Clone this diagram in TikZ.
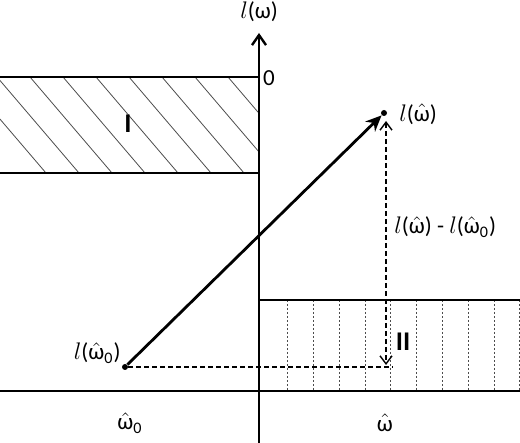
\documentclass[tikz,border=0pt]{standalone}
\usepackage{amsmath}
\usepackage{fontspec}
\setmainfont{Carlito}
\usetikzlibrary{arrows.meta}
\newcommand{\wh}{\ensuremath{\hat{\text{ω}}}}
\begin{document}
\begin{tikzpicture}[x=0.5pt,y=-0.5pt,
  lbl/.style={inner sep=0pt,font=\fontsize{11.5}{13}\selectfont},
  reg/.style={inner sep=0pt,font=\fontsize{13.5}{15}\selectfont\bfseries},
  bound/.style={line width=1pt},
  axisline/.style={line width=1.3pt},
  hatch/.style={line width=0.4pt,black!70},
  vhatch/.style={line width=0.4pt,black!70,dash pattern=on 1.2pt off 0.8pt},
  dot/.style={circle,fill=black,inner sep=0pt,minimum size=3pt},
  dashln/.style={line width=0.6pt,dash pattern=on 2.5pt off 1.5pt}]
\useasboundingbox (0,0) rectangle (520,443);
% region I hatch
\begin{scope}
\clip (0,77) rectangle (259,173);
\foreach \t in {-36,-3,30,63,96,129,162,195,228}
  \draw[hatch] (\t,77) -- ++(82,96);
\end{scope}
% region II hatch
\foreach \t in {287,313,339,365,390,416,442,468,494,519}
  \draw[vhatch] (\t,300) -- (\t,390);
% region boundaries
\coordinate (ItopL) at (0,77);
\coordinate (ItopR) at (259,77);
\coordinate (IbotL) at (0,173);
\coordinate (IbotR) at (259,173);
\coordinate (IItopL) at (259,300);
\coordinate (IItopR) at (520,300);
\coordinate (hL) at (0,391);
\coordinate (hR) at (520,391);
\coordinate (axbot) at (259,443);
\coordinate (axtop) at (259,33);
\draw[bound] (ItopL) -- (ItopR);
\draw[bound] (IbotL) -- (IbotR);
\draw[bound] (IItopL) -- (IItopR);
\draw[bound] (hL) -- (hR);
\draw[axisline,-{Straight Barb[length=5pt,width=7pt,line width=1.2pt]}] (axbot) -- (axtop);
% labels
\node[lbl] (ylab) at (259,12) {\(l\)(ω)};
\node[lbl] (zero) at (269,78) {0};
\node[reg] (regI) at (128,124) {I};
\node[reg] (regII) at (403,342) {II};
\node[lbl] (w0) at (130,423) {\wh\textsubscript{0}};
\node[lbl] (w) at (385,423) {\wh};
% points
\node[dot] (A) at (125,367) {};
\node[dot] (B) at (384,113) {};
\coordinate (Aend) at (393,367);
\coordinate (Ctop) at (386,121);
\coordinate (Cbot) at (386,365);
\node[lbl,anchor=east] (lA) at (121,353) {\(l\)(\wh\textsubscript{0})};
\node[lbl,anchor=west] (lB) at (399,114) {\(l\)(\wh)};
\node[lbl,anchor=west] (diff) at (394,227) {\(l\)(\wh) - \(l\)(\wh\textsubscript{0})};
% connectors
\draw[dashln] (A) -- (Aend);
\draw[dashln,{Straight Barb[length=4pt,width=6pt,line width=0.7pt]}-{Straight Barb[length=4pt,width=6pt,line width=0.7pt]}] (Ctop) -- (Cbot);
\draw[line width=1.4pt,-{Stealth[length=8pt,width=7pt]}] (A) -- (B);
\end{tikzpicture}
\end{document}
